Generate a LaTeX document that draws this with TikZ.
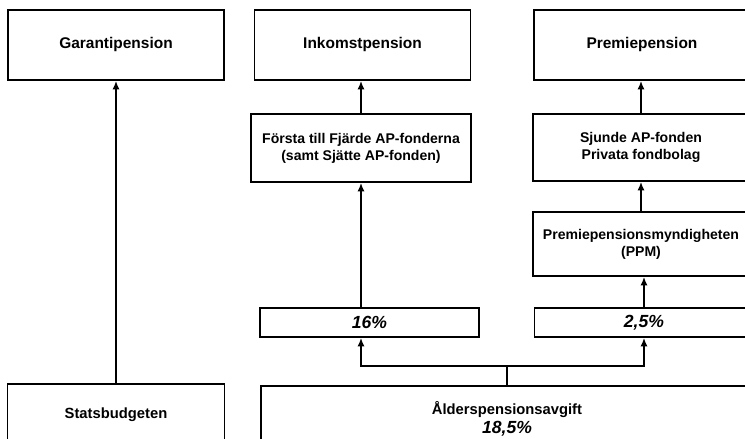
\documentclass[tikz,border=0pt]{standalone}
\usepackage{fontspec}
\setmainfont{Liberation Sans}
\usepackage{tikz}
\usetikzlibrary{arrows.meta,calc}

\begin{document}
\begin{tikzpicture}[x=0.025cm,y=-0.025cm,>={Latex[length=6pt,width=5pt]},
  line width=1.2pt,
  box/.style={draw,line width=1.2pt,align=center,inner sep=0pt,font=\fontsize{10}{12}\selectfont\bfseries},
  titlebox/.style={box,minimum width=216*0.025cm,minimum height=70*0.025cm,font=\fontsize{11}{13}\selectfont\bfseries},
  pctbox/.style={box,minimum width=219*0.025cm,minimum height=29*0.025cm,font=\fontsize{12.5}{14}\selectfont\bfseries\itshape}]
\useasboundingbox (0,0) rectangle (745,439);
% top row
\node[titlebox] (gar) at (116,45) {Garantipension};
\node[titlebox] (ink) at (362.5,45) {Inkomstpension};
\node[titlebox] (prem) at (642,45) {Premiepension};
% funds
\node[box,minimum width=220*0.025cm,minimum height=68*0.025cm] (fonder) at (361,148)
  {Första till Fjärde AP-fonderna\\(samt Sjätte AP-fonden)};
\node[box,minimum width=216*0.025cm,minimum height=67*0.025cm] (sjunde) at (641,147.5)
  {Sjunde AP-fonden\\Privata fondbolag};
\node[box,minimum width=216*0.025cm,minimum height=64*0.025cm] (ppm) at (641,244)
  {Premiepensionsmyndigheten\\(PPM)};
% shares
\node[pctbox] (p16) at (369.5,322.5) {16\%};
\node[pctbox] (p25) at (644,322.5) {2,5\%};
% sources
\node[box,minimum width=492*0.025cm,minimum height=66*0.025cm,font=\fontsize{10.5}{12.5}\selectfont\bfseries] (alder) at (507,419)
  {Ålderspensionsavgift\\[1pt]{\fontsize{12.5}{14}\selectfont\itshape 18,5\%}};
\node[box,minimum width=217*0.025cm,minimum height=62*0.025cm,font=\fontsize{10.5}{12}\selectfont\bfseries] (stats) at (116,415) {Statsbudgeten};

\draw[->] (stats) -- (gar);
\draw[->] (fonder.north) -- (fonder.north |- ink.south);
\draw[->] (fonder.south |- p16.north) -- (fonder.south);
\draw[->] (sjunde.north) -- (sjunde.north |- prem.south);
\draw[->] (ppm) -- (sjunde);
\draw[->] (p25.north) -- (p25.north |- ppm.south);
\coordinate (split) at ($(alder.north)+(0,-19)$);
\draw (alder.north) -- (split);
\draw[->] (split) -| (fonder.south |- p16.south);
\draw[->] (split) -| (p25.south);
\end{tikzpicture}
\end{document}
